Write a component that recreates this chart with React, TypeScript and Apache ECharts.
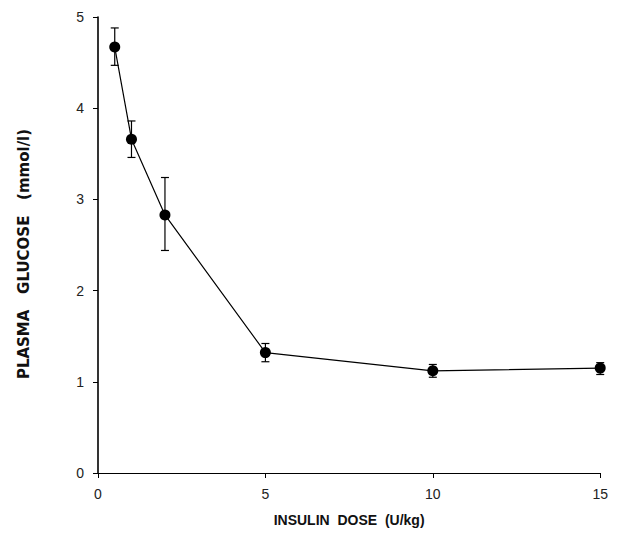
import React, { useEffect, useRef } from "react";
import * as echarts from "echarts";

const doses = [0.5, 1, 2, 5, 10, 15];
const glucose = [4.67, 3.66, 2.83, 1.32, 1.12, 1.15];
const errLow = [4.47, 3.46, 2.44, 1.22, 1.05, 1.08];
const errHigh = [4.88, 3.86, 3.24, 1.42, 1.19, 1.21];

export default function App() {
  const ref = useRef<HTMLDivElement>(null);
  useEffect(() => {
    if (!ref.current) return;
    const chart = echarts.init(ref.current, null, { renderer: "svg" });
    const font = "'Liberation Sans', Arial, sans-serif";
    chart.setOption({
      animation: false,
      backgroundColor: "#ffffff",
      grid: { left: 88, right: 6, top: 9, bottom: 56, containLabel: false },
      xAxis: {
        type: "value",
        min: 0,
        max: 15,
        interval: 5,
        name: "INSULIN  DOSE  (U/kg)",
        nameLocation: "middle",
        nameGap: 40,
        nameTextStyle: { fontFamily: font, fontSize: 14, fontWeight: "bold", color: "#111" },
        axisLine: { lineStyle: { color: "#000", width: 1.2 } },
        axisTick: { show: true, length: 5, lineStyle: { color: "#000" } },
        axisLabel: { fontFamily: font, fontSize: 14, color: "#222", margin: 14 },
        splitLine: { show: false },
      },
      yAxis: {
        type: "value",
        min: 0,
        max: 5,
        interval: 1,
        name: "PLASMA   GLUCOSE   (mmol/l)",
        nameLocation: "middle",
        nameGap: 67,
        nameTextStyle: {
          fontFamily: "'DejaVu Sans', sans-serif",
          fontSize: 15,
          fontWeight: "bold",
          color: "#111",
          padding: [0, 18, 0, 0],
        },
        axisLine: { show: true, lineStyle: { color: "#000", width: 1.6 } },
        axisTick: { show: true, length: 5, lineStyle: { color: "#000" } },
        axisLabel: { fontFamily: font, fontSize: 14, color: "#222", margin: 14 },
        splitLine: { show: false },
      },
      series: [
        {
          type: "custom",
          data: doses.map((d, i) => [d, errLow[i], errHigh[i]]),
          renderItem: (params: any, api: any) => {
            const x = api.value(0);
            const lo = api.coord([x, api.value(1)]);
            const hi = api.coord([x, api.value(2)]);
            const cap = 4;
            const st = { stroke: "#000", lineWidth: 1.2 };
            return {
              type: "group",
              children: [
                { type: "line", shape: { x1: lo[0], y1: lo[1], x2: hi[0], y2: hi[1] }, style: st },
                { type: "line", shape: { x1: lo[0] - cap, y1: lo[1], x2: lo[0] + cap, y2: lo[1] }, style: st },
                { type: "line", shape: { x1: hi[0] - cap, y1: hi[1], x2: hi[0] + cap, y2: hi[1] }, style: st },
              ],
            };
          },
          z: 1,
        },
        {
          type: "line",
          data: doses.map((d, i) => [d, glucose[i]]),
          symbol: "circle",
          symbolSize: 11,
          itemStyle: { color: "#000" },
          lineStyle: { color: "#000", width: 1.2 },
          z: 2,
        },
      ],
    });
    return () => chart.dispose();
  }, []);
  return <div ref={ref} style={{ width: 603, height: 524 }} />;
}
